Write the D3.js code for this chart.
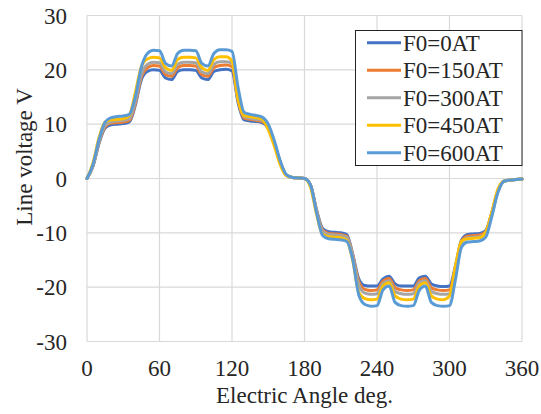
<!DOCTYPE html>
<html>
<head>
<meta charset="utf-8">
<script src="https://cdn.jsdelivr.net/npm/d3@7"></script>
<style>
    body { margin: 0; background: #fff; }
    #chart text { font-family: "Liberation Serif", "Times New Roman", serif; fill: #262626; }
</style>
</head>
<body>
<div id="chart"></div>
<script>
// Electric angle samples (deg), shared by all series
const angles = [0, 5, 10, 15, 20, 25, 30, 35, 40, 45, 50, 55, 60, 65, 70, 75, 80, 85, 90, 95,
    100, 105, 110, 115, 120, 125, 130, 135, 140, 145, 150, 155, 160, 165, 170, 175, 180, 185, 190, 195,
    200, 205, 210, 215, 220, 225, 230, 235, 240, 245, 250, 255, 260, 265, 270, 275, 280, 285, 290, 295,
    300, 305, 310, 315, 320, 325, 330, 335, 340, 345, 350, 355, 360];

const seriesNames = ["F0=0AT", "F0=150AT", "F0=300AT", "F0=450AT", "F0=600AT"];

const v0 = [0, 2.3, 6.5, 9.3, 9.9, 10.0, 10.1, 10.4, 13.5, 18.2, 19.7, 20.0, 19.9, 18.5, 18.2, 19.7, 20.0, 20.0, 19.9, 18.5,
    18.2, 19.7, 20.0, 20.1, 19.8, 14.0, 10.8, 10.6, 10.5, 10.3, 9.2, 6.4, 2.9, 0.6, 0.2, 0.1, 0.0, -1.2, -5.8, -9.2,
    -9.8, -9.9, -10.0, -10.3, -14.0, -18.5, -19.7, -19.8, -19.8, -18.5, -18.0, -19.4, -19.8, -19.8, -19.8, -18.3, -18.0, -19.4, -19.8, -19.9,
    -19.8, -16.0, -11.3, -10.3, -10.2, -10.1, -9.6, -6.3, -2.4, -0.5, -0.3, -0.2, -0.1];

const v150 = [0, 2.4, 6.7, 9.5, 10.2, 10.3, 10.4, 10.7, 13.8, 18.7, 20.4, 20.8, 20.7, 19.1, 18.8, 20.4, 20.8, 20.8, 20.7, 19.1,
    18.8, 20.4, 20.8, 20.9, 20.6, 14.4, 11.1, 10.9, 10.7, 10.5, 9.4, 6.5, 3.0, 0.6, 0.2, 0.1, 0.0, -1.2, -5.9, -9.5,
    -10.1, -10.2, -10.3, -10.6, -14.2, -19.0, -20.4, -20.6, -20.5, -18.9, -18.4, -20.1, -20.5, -20.6, -20.5, -18.8, -18.4, -20.1, -20.5, -20.6,
    -20.5, -16.5, -11.6, -10.6, -10.5, -10.4, -9.8, -6.4, -2.4, -0.5, -0.3, -0.2, -0.1];

const v300 = [0, 2.4, 6.8, 9.8, 10.4, 10.6, 10.7, 11.0, 14.2, 19.2, 21.0, 21.4, 21.3, 19.6, 19.3, 21.0, 21.4, 21.4, 21.3, 19.6,
    19.3, 21.0, 21.5, 21.5, 21.2, 14.8, 11.4, 11.1, 10.9, 10.7, 9.5, 6.6, 3.0, 0.6, 0.2, 0.1, 0.0, -1.3, -6.0, -9.7,
    -10.3, -10.4, -10.5, -10.8, -14.4, -19.6, -21.1, -21.3, -21.2, -19.3, -18.8, -20.8, -21.2, -21.3, -21.2, -19.2, -18.8, -20.8, -21.2, -21.3,
    -21.2, -17.0, -11.8, -10.9, -10.8, -10.7, -10.1, -6.6, -2.5, -0.5, -0.3, -0.2, -0.1];

const v450 = [0, 2.9, 7.6, 10.4, 10.8, 10.9, 11.0, 11.6, 15.8, 20.6, 22.0, 22.3, 22.2, 20.4, 19.9, 21.9, 22.3, 22.3, 22.2, 20.4,
    19.9, 21.9, 22.4, 22.4, 21.6, 14.6, 11.6, 11.4, 11.2, 10.9, 9.0, 6.0, 2.5, 0.5, 0.2, 0.1, 0.0, -1.6, -6.6, -10.3,
    -10.7, -10.8, -10.9, -11.4, -15.2, -21.0, -22.1, -22.3, -22.2, -19.8, -19.2, -21.6, -22.2, -22.3, -22.2, -19.8, -19.2, -21.6, -22.2, -22.3,
    -21.6, -16.0, -11.5, -11.1, -11.0, -10.9, -9.9, -6.2, -2.0, -0.5, -0.3, -0.2, -0.1];

const v600 = [0, 2.6, 7.2, 10.4, 11.2, 11.4, 11.5, 11.8, 15.0, 20.5, 23.0, 23.6, 23.5, 21.2, 20.7, 23.0, 23.6, 23.6, 23.5, 21.2,
    20.7, 23.0, 23.7, 23.7, 23.4, 16.8, 12.2, 11.8, 11.6, 11.3, 10.0, 7.0, 3.2, 0.7, 0.2, 0.1, 0.0, -1.2, -6.3, -10.5,
    -11.1, -11.2, -11.3, -11.6, -15.0, -21.5, -23.2, -23.5, -23.4, -20.5, -19.8, -22.8, -23.4, -23.5, -23.4, -20.6, -19.8, -22.8, -23.4, -23.5,
    -23.4, -18.5, -12.6, -11.7, -11.6, -11.5, -10.8, -7.0, -2.6, -0.5, -0.3, -0.2, -0.1];

const seriesValues = [v0, v150, v300, v450, v600];
const colors = ["#4472C4", "#ED7D31", "#A5A5A5", "#FFC000", "#5B9BD5"];

const xTicks = [0, 60, 120, 180, 240, 300, 360];
const yTicks = [-30, -20, -10, 0, 10, 20, 30];

document.addEventListener('DOMContentLoaded', function() {
    const width = 541;
    const height = 414;
    const tickSize = 23;
    const titleSize = 23;
    const legendSize = 23;

    const svg = d3.select("#chart")
        .append("svg")
        .attr("width", width)
        .attr("height", height);

    const x = d3.scaleLinear().domain([0, 360]).range([87, 522]);
    const y = d3.scaleLinear().domain([-30, 30]).range([341.5, 15.5]);

    // grid lines
    svg.append("g")
        .selectAll("line.vgrid")
        .data(xTicks)
        .enter()
        .append("line")
        .attr("x1", d => x(d)).attr("x2", d => x(d))
        .attr("y1", y(30)).attr("y2", y(-30))
        .attr("stroke", "#d9d9d9")
        .attr("stroke-width", 1.2);

    svg.append("g")
        .selectAll("line.hgrid")
        .data(yTicks)
        .enter()
        .append("line")
        .attr("x1", x(0)).attr("x2", x(360))
        .attr("y1", d => y(d)).attr("y2", d => y(d))
        .attr("stroke", "#d9d9d9")
        .attr("stroke-width", 1.2);

    // tick labels
    svg.append("g")
        .selectAll("text")
        .data(yTicks)
        .enter()
        .append("text")
        .attr("x", 67)
        .attr("y", d => y(d))
        .attr("dy", "0.35em")
        .attr("text-anchor", "end")
        .style("font-size", tickSize + "px")
        .text(d => d);

    svg.append("g")
        .selectAll("text")
        .data(xTicks)
        .enter()
        .append("text")
        .attr("x", d => x(d))
        .attr("y", 376)
        .attr("text-anchor", "middle")
        .style("font-size", tickSize + "px")
        .text(d => d);

    // axis titles
    svg.append("text")
        .attr("x", (x(0) + x(360)) / 2)
        .attr("y", 403)
        .attr("text-anchor", "middle")
        .style("font-size", titleSize + "px")
        .text("Electric Angle deg.");

    svg.append("text")
        .attr("transform", "translate(32,157) rotate(-90)")
        .attr("text-anchor", "middle")
        .style("font-size", titleSize + "px")
        .text("Line voltage V");

    // series lines
    const line = d3.line()
        .x((d, i) => x(angles[i]))
        .y(d => y(d))
        .curve(d3.curveMonotoneX);

    svg.append("g")
        .selectAll("path")
        .data(seriesValues)
        .enter()
        .append("path")
        .attr("d", d => line(d))
        .attr("fill", "none")
        .attr("stroke", (d, i) => colors[i])
        .attr("stroke-width", 3)
        .attr("stroke-linejoin", "round")
        .attr("stroke-linecap", "round");

    // legend
    const legend = svg.append("g");
    legend.append("rect")
        .attr("x", 355.5)
        .attr("y", 30.5)
        .attr("width", 166.5)
        .attr("height", 135)
        .attr("fill", "#fff")
        .attr("stroke", "#222")
        .attr("stroke-width", 1);

    const items = legend.selectAll("g")
        .data(seriesNames)
        .enter()
        .append("g")
        .attr("transform", (d, i) => `translate(0, ${42.7 + i * 27.5})`);

    items.append("line")
        .attr("x1", 367).attr("x2", 401)
        .attr("stroke", (d, i) => colors[i])
        .attr("stroke-width", 3);

    items.append("text")
        .attr("x", 403)
        .attr("dy", "0.35em")
        .style("font-size", legendSize + "px")
        .text(d => d);
});
</script>
</body>
</html>
